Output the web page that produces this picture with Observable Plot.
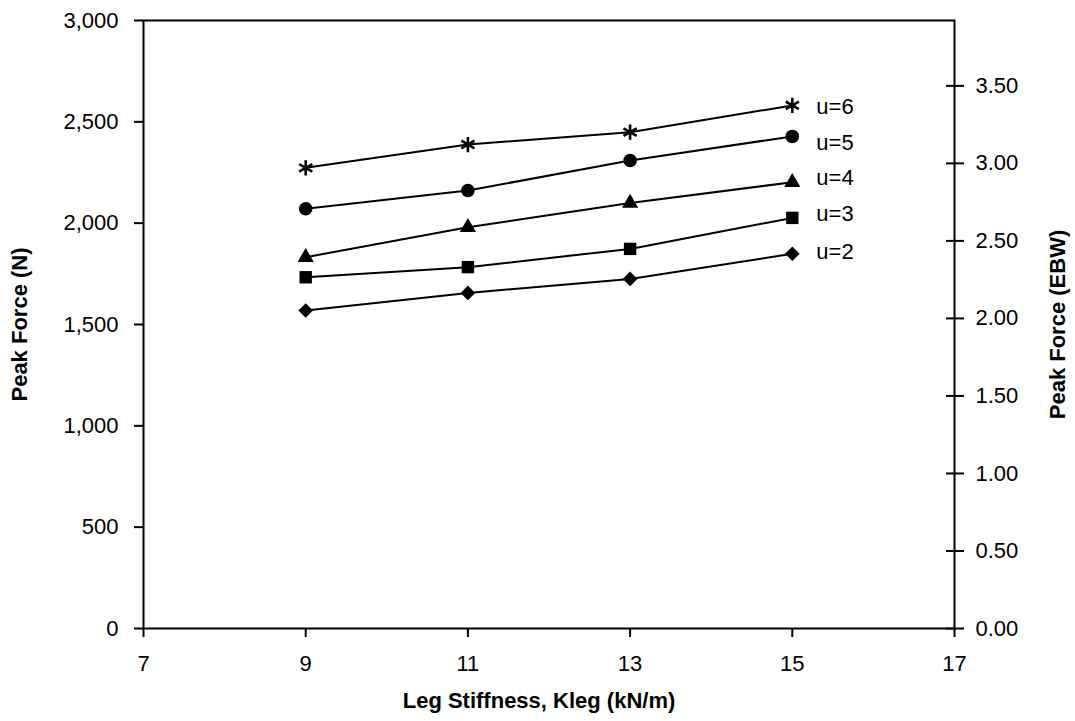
<!DOCTYPE html>
<html><head><meta charset="utf-8">
<script src="https://cdn.jsdelivr.net/npm/d3@7"></script>
<script src="https://cdn.jsdelivr.net/npm/@observablehq/plot@0.6"></script>
<style>body{margin:0;background:#fff}</style>
</head><body><div id="chart"></div>
<script>
// ---- data ----
const stiffness = [9, 11, 13, 15];            // Leg stiffness, kN/m
const seriesNames = ["u=2", "u=3", "u=4", "u=5", "u=6"];
const forceU2 = [1569, 1656, 1725, 1849];     // Peak force (N)
const forceU3 = [1733, 1783, 1873, 2026];
const forceU4 = [1832, 1980, 2099, 2202];
const forceU5 = [2071, 2161, 2309, 2428];
const forceU6 = [2273, 2388, 2449, 2581];
const xTicks = [7, 9, 11, 13, 15, 17];
const yTicksN = [0, 500, 1000, 1500, 2000, 2500, 3000];
const yTicksEBW = [0, 0.5, 1, 1.5, 2, 2.5, 3, 3.5];
const bodyWeightN = 765;                      // N per 1 EBW (right axis)
const xTitle = "Leg Stiffness, Kleg (kN/m)";
const yTitleLeft = "Peak Force (N)";
const yTitleRight = "Peak Force (EBW)";

const seriesValues = [forceU2, forceU3, forceU4, forceU5, forceU6];
const rows = [];
seriesNames.forEach((s, i) => stiffness.forEach((k, j) => rows.push({series: s, k, f: seriesValues[i][j]})));
const lastRows = seriesNames.map((s, i) => ({series: s, k: stiffness[stiffness.length - 1], f: seriesValues[i][stiffness.length - 1]}));

const symbolStyle = {
  "u=2": {symbol: "diamond2", r: 6.6, fill: "black"},
  "u=3": {symbol: "square", r: 7.0, fill: "black"},
  "u=4": {symbol: "triangle", r: 6.0, fill: "black"},
  "u=5": {symbol: "circle", r: 6.8, fill: "black"},
  "u=6": {symbol: "asterisk", r: 7.2, fill: "none", stroke: "black", strokeWidth: 2.6}
};
const labelDy = {"u=2": -2, "u=3": -4, "u=4": -4, "u=5": 7, "u=6": 2};

const marks = [
  Plot.frame({stroke: "black", strokeWidth: 2}),
  Plot.axisX({ticks: xTicks, tickSize: 9, strokeWidth: 2, fill: "none", label: null}),
  Plot.text(xTicks, {x: d => d, text: d => String(d), frameAnchor: "bottom", dy: 42, fontSize: 22, fill: "black"}),
  Plot.axisY({ticks: yTicksN, tickFormat: d3.format(","), tickSize: 9, tickPadding: 16, strokeWidth: 2, fontSize: 22, label: null}),
  Plot.axisY({anchor: "right", ticks: yTicksEBW.map(v => v * bodyWeightN), tickFormat: d => (d / bodyWeightN).toFixed(2),
              tickSize: 18, insetRight: 9, tickPadding: 12, strokeWidth: 2, fontSize: 22, label: null}),
  Plot.line(rows, {x: "k", y: "f", z: "series", stroke: "black", strokeWidth: 2})
];
for (const s of seriesNames) {
  marks.push(Plot.dot(rows.filter(d => d.series === s), {x: "k", y: "f", ...symbolStyle[s]}));
}
for (const d of lastRows) {
  marks.push(Plot.text([d], {x: "k", y: "f", text: "series", textAnchor: "start", dx: 24, dy: labelDy[d.series], fontSize: 22, fill: "black"}));
}
marks.push(
  Plot.text([yTitleLeft], {frameAnchor: "left", dx: -124, rotate: -90, textAnchor: "middle", lineAnchor: "middle", fontWeight: "bold", fontSize: 22, fill: "black", letterSpacing: "0.8px"}),
  Plot.text([yTitleRight], {frameAnchor: "right", dx: 103, rotate: -90, textAnchor: "middle", lineAnchor: "middle", fontWeight: "bold", fontSize: 22, fill: "black", letterSpacing: "0.5px"}),
  Plot.text([xTitle], {frameAnchor: "bottom", dx: -10, dy: 72, textAnchor: "middle", lineAnchor: "middle", fontWeight: "bold", fontSize: 22, fill: "black", letterSpacing: "1.1px"})
);

const chart = Plot.plot({
  width: 1075, height: 721,
  marginLeft: 143, marginRight: 121, marginTop: 20, marginBottom: 93,
  style: {fontFamily: "'Liberation Sans', Arial, sans-serif", fontSize: "22px", color: "black", background: "white"},
  x: {domain: [7, 17]},
  y: {domain: [0, 3000]},
  marks
});
document.getElementById("chart").appendChild(chart);
</script>
</body></html>
